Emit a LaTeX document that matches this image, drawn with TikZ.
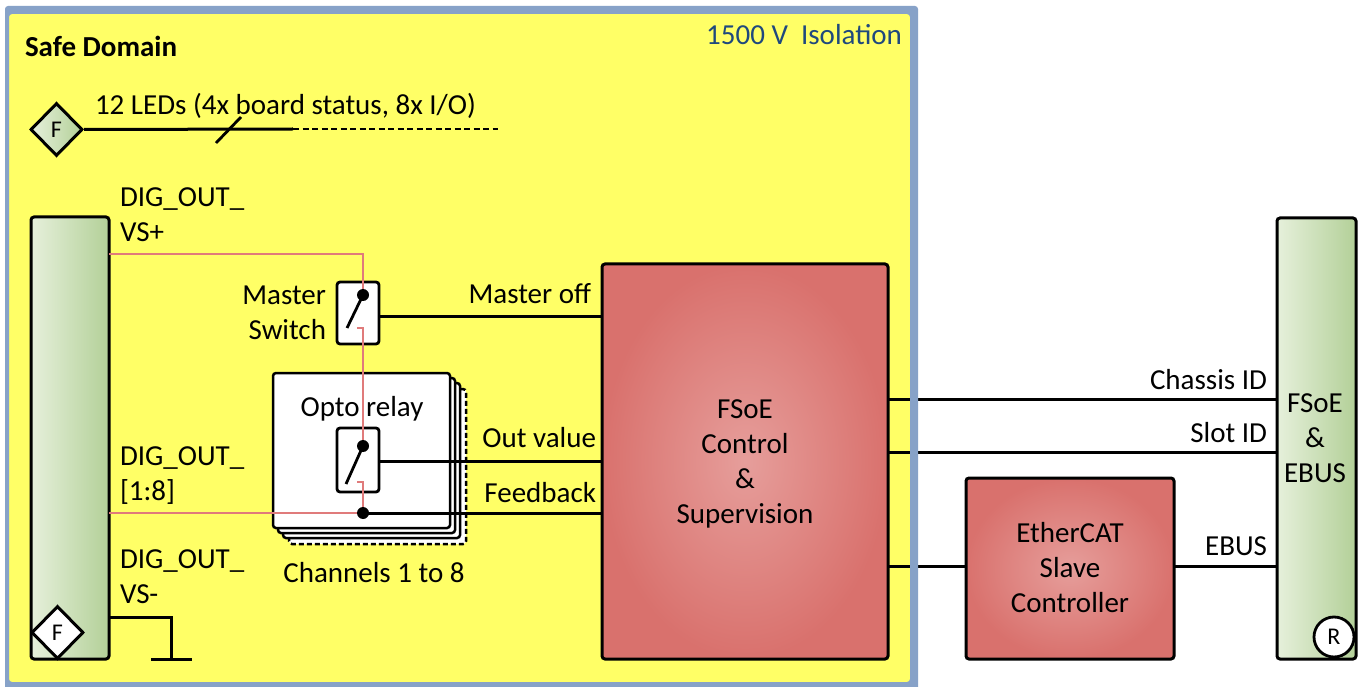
\documentclass[tikz,border=0pt]{standalone}
\usepackage{fontspec}
\setmainfont{Carlito}
\usetikzlibrary{shapes.geometric,calc}
\definecolor{yel}{HTML}{FFFF66}
\definecolor{framec}{HTML}{87A2C8}
\definecolor{pinkw}{HTML}{E07B7B}
\definecolor{redin}{HTML}{E69E9B}
\definecolor{redout}{HTML}{D9716D}
\definecolor{grL}{HTML}{E6F0DB}
\definecolor{grR}{HTML}{B3D098}
\definecolor{isoblue}{HTML}{1F497D}
\begin{document}
\begin{tikzpicture}[x=1pt,y=-1pt,
  txt/.style={font=\fontsize{29}{35}\selectfont, inner sep=0pt, outer sep=0pt},
  smalltxt/.style={font=\fontsize{24}{28}\selectfont},
  blk/.style={draw=black, line width=3pt, rounded corners=3pt, inner sep=0pt, outer sep=0pt},
  redbox/.style={blk, inner color=redin, outer color=redout},
  barbox/.style={blk, left color=grL, right color=grR},
  layer/.style={blk, fill=white, line width=2.5pt, minimum width=177pt, minimum height=155pt},
  swbox/.style={blk, fill=white, line width=2.8pt, minimum width=42pt},
  wire/.style={line width=3pt},
  lever/.style={line width=2.8pt},
  pinkwire/.style={draw=pinkw, line width=2.9pt},
  dotn/.style={circle, fill=black, inner sep=0pt, minimum size=12pt},
  fdiam/.style={diamond, draw=black, line width=3pt, inner sep=0pt, minimum width=52pt, minimum height=53pt, smalltxt},
]
\useasboundingbox (0,0) rectangle (1361,687);
\fill[white] (0,0) rectangle (1361,687);
% yellow domain
\fill[yel] (9,14) rectangle (910,682);

% bars and blocks
\node[barbox, minimum width=78pt, minimum height=442pt] (lbar) at (70,438) {};
\node[barbox, minimum width=79pt, minimum height=441pt] (rbar) at (1316.5,438.5) {};
\node[redbox, minimum width=286pt, minimum height=395pt] (fsoe) at (745,461.5) {};
\node[redbox, minimum width=208pt, minimum height=181pt] (esc) at (1070,568.5) {};

% opto relay stack
\node[layer, dash pattern=on 5pt off 3pt] (opto3) at (377.5,466.5) {};
\node[layer] (opto2) at (371.5,460.5) {};
\node[layer] (opto1) at (366.5,455.5) {};
\node[layer] (opto) at (361.5,450.5) {};

% switches
\node[swbox, minimum height=62pt] (msw) at (358,313) {};
\node[swbox, minimum height=64pt] (osw) at (358,460) {};

% black signal wires
\coordinate (mdot) at (363,295);
\coordinate (odot) at (363,446);
\coordinate (fbdot) at (363,513);
\draw[wire] ([yshift=-4pt]msw.east) -- ([yshift=-4pt]msw.east -| fsoe.west);
\draw[wire] ([yshift=-1pt]osw.east) -- ([yshift=-1pt]osw.east -| fsoe.west);
\draw[wire] (fbdot) -- (fbdot -| fsoe.west);

\coordinate (chy) at (0,399);
\coordinate (sly) at (0,452);
\coordinate (eby) at (0,566);
\draw[wire] (fsoe.east |- chy) -- (rbar.west |- chy);
\draw[wire] (fsoe.east |- sly) -- (rbar.west |- sly);
\draw[wire] (fsoe.east |- eby) -- (esc.west |- eby);
\draw[wire] (esc.east |- eby) -- (rbar.west |- eby);

% pink power path
\coordinate (vsp) at (0,254);
\coordinate (vspc) at (363,254);
\coordinate (mlow) at (357,328);
\coordinate (mlowc) at (363,328);
\coordinate (olow) at (357,482);
\coordinate (olowc) at (363,482);
\draw[pinkwire] (lbar.east |- vsp) -- (vspc) -- (mdot);
\draw[pinkwire] (mlow) -- (mlowc) -- (odot);
\draw[pinkwire] (olow) -- (olowc) -- (fbdot);
\draw[pinkwire] (lbar.east |- fbdot) -- (fbdot);

% levers and dots
\coordinate (mlev) at (347,328);
\coordinate (olev) at (346,484);
\draw[lever] (mdot) -- (mlev);
\draw[lever] (odot) -- (olev);
\node[dotn] (mdotn) at (mdot) {};
\node[dotn] (odotn) at (odot) {};
\node[dotn] (fbdotn) at (fbdot) {};

% LED bus
\node[fdiam, left color=grL, right color=grR] (ledF) at (56.5,129.5) {F};
\coordinate (ledmid) at (293,129);
\coordinate (ledend) at (498,129);
\coordinate (sl1) at (216,143);
\coordinate (sl2) at (241,117);
\draw[wire] (ledF.east) -- (ledmid);
\draw[line width=2.2pt, dash pattern=on 6pt off 3.5pt] (ledmid) -- (ledend);
\draw[lever] (sl1) -- (sl2);

% bottom diamond on left bar
\node[fdiam, fill=white] (barF) at (57.5,632.5) {F};

% ground
\coordinate (gy) at (0,617);
\coordinate (g1) at (171,617);
\coordinate (g2) at (171,659);
\coordinate (gl) at (151,659);
\coordinate (gr) at (192,659);
\draw[wire] (lbar.east |- gy) -- (g1) -- (g2);
\draw[wire] (gl) -- (gr);

% R circle
\node[circle, draw=black, line width=2.8pt, fill=white, minimum size=40pt, inner sep=0pt, smalltxt] (rc) at (1334,637) {R};

% frame border on top
\fill[framec, even odd rule, rounded corners=3pt] (5,6) rectangle (918,690) (9,14) rectangle (910,682);

% texts
\node[txt, anchor=base west] (safe) at (25,57) {\bfseries Safe Domain};
\node[txt, text=isoblue, anchor=base east] (iso) at (902,45) {1500 V\ \ Isolation};
\node[txt, anchor=base west] (leds) at (95,115) {12 LEDs (4x board status, 8x I/O)};
\node[txt, align=left, anchor=north west] (tvsp) at (120,182.5) {\strut DIG\_OUT\_\\\strut VS+};
\node[txt, align=left, anchor=north west] (tdig) at (120,440.5) {\strut DIG\_OUT\_\\\strut [1:8]};
\node[txt, align=left, anchor=north west] (tvsm) at (120,543.5) {\strut DIG\_OUT\_\\\strut VS-};
\node[txt, align=right, anchor=north east] (tmsw) at (326,279.5) {\strut Master\\\strut Switch};
\node[txt, anchor=base east] (tmoff) at (591,304) {Master off};
\node[txt, anchor=base] (topto) at (362,416) {Opto relay};
\node[txt, anchor=base east] (tout) at (596,447) {Out value};
\node[txt, anchor=base east] (tfb) at (596,502) {Feedback};
\node[txt, anchor=base] (tch) at (374,582) {Channels 1 to 8};
\node[txt, align=center, anchor=north] (tfsoe) at (745,393.5) {\strut FSoE\\\strut Control\\\strut \&\\\strut Supervision};
\node[txt, align=center, anchor=north] (tesc) at (1070,517.5) {\strut EtherCAT\\\strut Slave\\\strut Controller};
\node[txt, align=center, anchor=north] (trbar) at (1315,387.5) {\strut FSoE\\\strut \&\\\strut EBUS};
\node[txt, anchor=base east] (tchid) at (1267,389) {Chassis ID};
\node[txt, anchor=base east] (tslot) at (1267,442) {Slot ID};
\node[txt, anchor=base east] (tebus) at (1267,555) {EBUS};
\end{tikzpicture}
\end{document}
